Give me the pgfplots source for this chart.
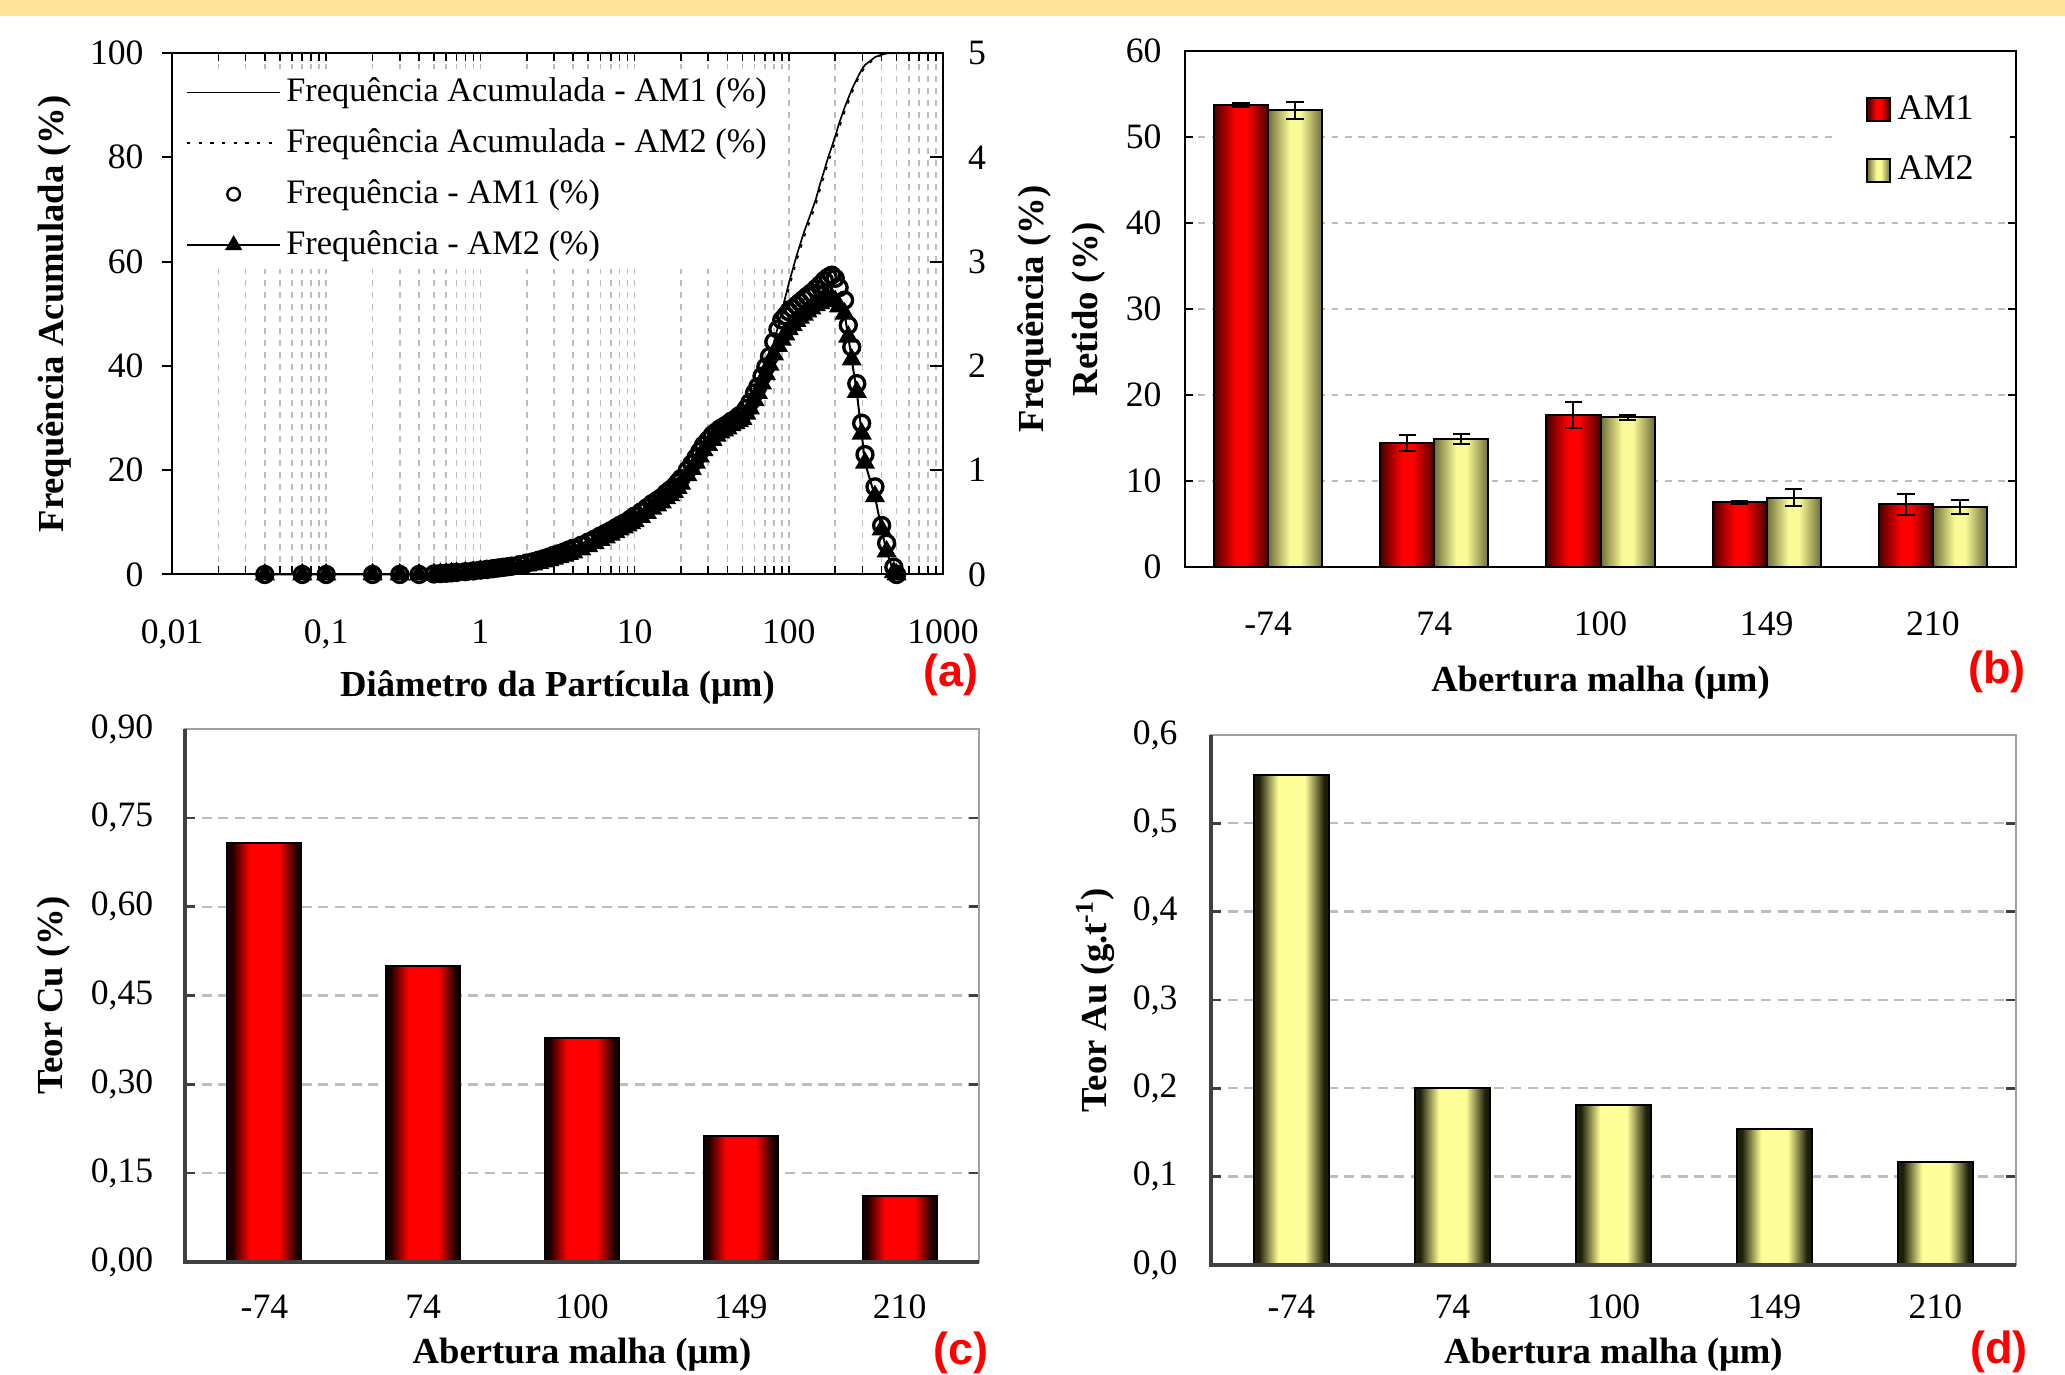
\documentclass[border=0pt]{standalone}
\usepackage{pgfplots}
\usepackage{pgfplotstable}
\pgfplotsset{compat=1.18}
\usepackage{fontspec}
\setmainfont{Liberation Serif}
\newfontfamily\sansb{Liberation Sans}
\definecolor{band}{HTML}{FFE599}
\definecolor{gridc}{HTML}{BDBDBD}
\definecolor{redEdge}{HTML}{4A0000}
\definecolor{redMid}{HTML}{FF0000}
\definecolor{yEdge}{HTML}{6E6E3A}
\definecolor{yMid}{HTML}{FAFA96}
\definecolor{yEdge2}{HTML}{1E1E0A}
\definecolor{yMid2}{HTML}{FFFF99}
\definecolor{redEdge2}{HTML}{1A0000}
\definecolor{axgray}{HTML}{404040}
\definecolor{boxgray}{HTML}{A0A0A0}

\pgfdeclarehorizontalshading{shRedB}{100bp}{color(0bp)=(redEdge); color(25bp)=(redEdge); color(45bp)=(redMid); color(55bp)=(redMid); color(75bp)=(redEdge); color(100bp)=(redEdge)}
\pgfdeclarehorizontalshading{shYelB}{100bp}{color(0bp)=(yEdge); color(25bp)=(yEdge); color(45bp)=(yMid); color(55bp)=(yMid); color(75bp)=(yEdge); color(100bp)=(yEdge)}
\pgfdeclarehorizontalshading{shRedC}{100bp}{color(0bp)=(redEdge2); color(25bp)=(redEdge2); color(28bp)=(redEdge2); color(40bp)=(redMid); color(60bp)=(redMid); color(72bp)=(redEdge2); color(75bp)=(redEdge2); color(100bp)=(redEdge2)}
\pgfdeclarehorizontalshading{shYelD}{100bp}{color(0bp)=(yEdge2); color(25bp)=(yEdge2); color(28bp)=(yEdge2); color(41bp)=(yMid2); color(59bp)=(yMid2); color(72bp)=(yEdge2); color(75bp)=(yEdge2); color(100bp)=(yEdge2)}

\pgfplotsset{every axis/.append style={
  /pgf/number format/assume math mode=true,
  tick label style={font=\fontsize{10.7}{12}\selectfont},
  label style={font=\bfseries\fontsize{11}{13.5}\selectfont},
},
redbar/.style={draw=black, line width=0.6pt, shade, shading=shRedB, shading angle=0},
yelbar/.style={draw=black, line width=0.6pt, shade, shading=shYelB, shading angle=0},
redbar2/.style={draw=black, line width=0.6pt, shade, shading=shRedC, shading angle=0},
yelbar2/.style={draw=black, line width=0.6pt, shade, shading=shYelD, shading angle=0},
errb/.style={error bars/y dir=both, error bars/y explicit,
  error bars/error bar style={black, line width=0.6pt},
  error bars/error mark options={rotate=90, mark size=2.6pt, black, line width=0.6pt}},
}

\pgfplotstableread{
d f1 f2
0.04 0 0
0.07 0 0
0.1 0 0
0.2 0 0
0.3 0 0
0.4 0 0
0.5 0.005 0.003
0.55 0.009 0.005
0.6 0.012 0.007
0.65 0.016 0.01
0.7 0.02 0.012
0.8 0.027 0.017
0.9 0.034 0.022
1.0 0.042 0.03
1.1 0.048 0.035
1.2 0.055 0.04
1.3 0.062 0.045
1.4 0.068 0.05
1.5 0.074 0.055
1.6 0.08 0.06
1.8 0.095 0.072
2.0 0.11 0.085
2.2 0.122 0.095
2.4 0.138 0.11
2.6 0.153 0.123
2.8 0.168 0.137
3.0 0.185 0.15
3.25 0.20 0.165
3.5 0.217 0.18
3.75 0.235 0.195
4.0 0.252 0.21
4.5 0.28 0.24
5.0 0.31 0.27
5.5 0.34 0.30
6.0 0.37 0.33
6.5 0.395 0.355
7.0 0.42 0.38
7.5 0.445 0.405
8.0 0.47 0.43
8.5 0.49 0.45
9.0 0.51 0.47
9.5 0.535 0.49
10 0.56 0.51
11 0.60 0.55
12 0.64 0.59
13 0.68 0.63
14 0.71 0.66
15 0.74 0.69
16 0.78 0.73
17 0.81 0.76
18 0.84 0.79
19 0.88 0.83
20 0.92 0.87
22 1.00 0.95
23.5 1.06 1.01
25 1.12 1.07
26.5 1.18 1.13
28 1.24 1.19
30 1.29 1.24
32 1.34 1.29
34 1.37 1.33
36 1.40 1.36
38 1.42 1.38
40 1.44 1.40
42.5 1.47 1.43
45 1.49 1.45
47.5 1.52 1.47
50 1.54 1.49
53 1.59 1.54
56 1.65 1.59
60 1.74 1.67
63 1.80 1.74
67 1.90 1.83
71 1.99 1.92
75 2.09 2.01
80 2.23 2.11
85 2.35 2.19
90 2.44 2.25
95 2.48 2.30
100 2.52 2.35
106 2.55 2.39
112 2.58 2.43
118 2.61 2.46
125 2.64 2.49
132 2.67 2.52
140 2.70 2.55
150 2.74 2.58
160 2.78 2.60
170 2.82 2.62
180 2.85 2.64
190 2.87 2.65
200 2.84 2.62
212 2.75 2.57
230 2.63 2.50
243 2.39 2.28
256 2.18 2.06
276 1.83 1.75
297 1.45 1.35
312 1.15 1.07
362 0.84 0.75
400 0.47 0.43
431 0.30 0.22
480 0.07 0.02
500 0.00 0.00
}\freqtab

\pgfplotstableread{
d c1 c2
0.04 0 0
0.4 0 0
0.5 0.1 0.1
0.7 0.4 0.3
1 0.8 0.7
1.4 1.2 1.1
2 2.0 1.8
3 3.4 3.2
4 4.7 4.4
5 5.8 5.6
6 7.0 6.8
7 8.0 7.8
8 9.0 8.8
9 9.8 9.6
10 10.8 10.4
12 12.4 12.0
14 13.8 13.4
16 15.2 14.8
18 16.4 16.0
20 18.0 17.6
22 19.6 19.2
25 22.0 21.6
28 24.4 24.0
32 26.4 26.0
36 27.6 27.4
40 28.4 28.2
45 29.4 29.2
50 30.4 30.0
56 32.6 32.0
63 35.6 35.0
71 39.4 38.6
75 41.4 40.4
80 44.5 43.5
85 47.5 46.5
90 50.5 49.5
95 53.2 52.2
100 55.8 54.8
112 61 60
125 65.5 64.5
140 69.5 68.5
150 72 71
160 75 74
170 77.5 76.5
180 80 79
190 82 81
200 84 83
212 86.5 85.5
230 89.5 88.7
256 93 92.3
276 95 94.5
297 96.8 96.3
312 97.7 97.3
362 99.2 99.0
400 99.7 99.6
450 100 99.9
500 100 100
}\cumtab

\begin{document}
\begin{tikzpicture}[x=1pt,y=1pt]
\useasboundingbox (0,0) rectangle (619.5,412.5);
\fill[band] (0,407.8) rectangle (619.5,412.5);

% ===================== (a) =====================
\begin{axis}[at={(51.6pt,240.15pt)}, anchor=south west, scale only axis,
  width=231.3pt, height=156.45pt,
  xmode=log, log basis x=10, xmin=0.01, xmax=1000, ymin=0, ymax=100, ytick=\empty,
  xtick={0.01,0.1,1,10,100,1000}, xticklabels={{0,01},{0,1},1,10,100,1000},
  minor xtick={0.02,0.03,0.04,0.05,0.06,0.07,0.08,0.09,0.2,0.3,0.4,0.5,0.6,0.7,0.8,0.9,2,3,4,5,6,7,8,9,20,30,40,50,60,70,80,90,200,300,400,500,600,700,800,900},
  tick align=inside, major tick length=2.5pt, minor tick length=2.5pt,
  tick style={black, line width=0.5pt},
  xmajorgrids, xminorgrids,
  major grid style={gridc, dash pattern=on 2pt off 1.6pt, line width=0.5pt},
  minor grid style={gridc, dash pattern=on 2pt off 1.6pt, line width=0.5pt},
  xticklabel style={yshift=-10pt},
  xlabel={Diâmetro da Partícula (μm)},
  xlabel style={at={(axis description cs:0.5,0)}, anchor=center, yshift=-34pt},
  axis line style={black, line width=0.6pt},
  legend style={at={(0,1)}, anchor=north west, yshift=-4.5pt, draw=none, fill=white,
    font=\fontsize{10.3}{12}\selectfont, inner xsep=4pt, inner ysep=1.3pt,
    row sep=3.6pt, nodes={inner sep=1.5pt}},
  legend cell align=left,
  legend image code/.code={\draw[mark repeat=2,mark phase=2,#1] plot coordinates {(0pt,0pt) (14pt,0pt) (28pt,0pt)};},
]
\addplot[black, line width=0.5pt] table[x=d,y=c1]{\cumtab};
\addlegendentry{Frequência Acumulada - AM1 (\%)}
\addplot[black, line width=0.5pt, dash pattern=on 1pt off 2.5pt] table[x=d,y=c2]{\cumtab};
\addlegendentry{Frequência Acumulada - AM2 (\%)}
\addlegendimage{only marks, mark=o, mark size=1.9pt, black, mark options={line width=0.7pt}}
\addlegendentry{Frequência - AM1 (\%)}
\addlegendimage{black, line width=0.6pt, mark=triangle*, mark size=2.4pt}
\addlegendentry{Frequência - AM2 (\%)}
\end{axis}

\begin{axis}[at={(51.6pt,240.15pt)}, anchor=south west, scale only axis,
  width=231.3pt, height=156.45pt,
  xmode=log, xmin=0.01, xmax=1000, ymin=0, ymax=5,
  axis x line=none, axis y line*=right,
  ytick={0,1,2,3,4,5}, tick align=inside, major tick length=4pt,
  tick style={black, line width=0.6pt},
  yticklabel style={xshift=4pt},
  axis line style={black, line width=0.6pt}, clip=false]
\addplot[only marks, mark=o, mark size=2.4pt, black, mark options={line width=1pt}] table[x=d,y=f1]{\freqtab};
\addplot[black, line width=0.6pt, mark=triangle*, mark size=2.9pt] table[x=d,y=f2]{\freqtab};
\end{axis}

\begin{axis}[at={(51.6pt,240.15pt)}, anchor=south west, scale only axis,
  width=231.3pt, height=156.45pt,
  xmode=log, xmin=0.01, xmax=1000, ymin=0, ymax=100,
  axis x line=none, axis y line*=left,
  ytick={0,20,40,60,80,100}, tick align=outside, major tick length=3pt,
  tick style={black, line width=0.6pt},
  yticklabel style={xshift=-2pt},
  axis line style={black, line width=0.6pt},
  ylabel={Frequência Acumulada (\%)},
  ylabel style={at={(axis description cs:-0.153,0.5)}, anchor=center}]
\end{axis}

% ===================== (b) =====================
\begin{axis}[at={(355.5pt,242.4pt)}, anchor=south west, scale only axis,
  width=249.3pt, height=154.8pt,
  ybar, bar width=0.325,
  xmin=-0.5, xmax=4.5, ymin=0, ymax=60,
  xtick={0,1,2,3,4}, xticklabels={-74,74,100,149,210},
  x tick style={draw=none},
  ytick={0,10,...,60}, tick align=inside, major tick length=2.5pt,
  y tick style={black, line width=0.5pt},
  yticklabel style={xshift=-3.5pt},
  ymajorgrids, major grid style={gridc, dash pattern=on 2pt off 2pt, line width=0.6pt},
  axis line style={black, line width=0.6pt},
  xticklabel style={yshift=-10pt},
  xlabel={Abertura malha (μm)},
  xlabel style={at={(axis description cs:0.5,0)}, anchor=center, yshift=-34.7pt},
  ylabel={Frequência (\%)\\[2.6pt]Retido (\%)},
  ylabel style={align=center, at={(axis description cs:-0.149,0.5)}, anchor=center},
  legend style={at={(0.783,0.967)}, anchor=north west, draw=none, fill=white,
    font=\fontsize{10.8}{12.5}\selectfont, inner xsep=9pt, inner ysep=6pt,
    row sep=5.5pt, nodes={inner sep=2pt}},
  legend cell align=left,
  legend image code/.code={\draw[#1] (0pt,-3.4pt) rectangle (6.8pt,3.4pt);},
]
\addplot[redbar, bar shift=-0.1625, forget plot, errb] coordinates {(0,53.7) +- (0,0.2)};
\addplot[redbar, bar shift=-0.1625, forget plot, errb] coordinates {(1,14.4) +- (0,0.9)};
\addplot[redbar, bar shift=-0.1625, forget plot, errb] coordinates {(2,17.7) +- (0,1.5)};
\addplot[redbar, bar shift=-0.1625, forget plot, errb] coordinates {(3,7.5) +- (0,0.2)};
\addplot[redbar, bar shift=-0.1625, forget plot, errb] coordinates {(4,7.3) +- (0,1.2)};
\addplot[yelbar, bar shift=0.1625, forget plot, errb] coordinates {(0,53.1) +- (0,1.0)};
\addplot[yelbar, bar shift=0.1625, forget plot, errb] coordinates {(1,14.9) +- (0,0.6)};
\addplot[yelbar, bar shift=0.1625, forget plot, errb] coordinates {(2,17.4) +- (0,0.25)};
\addplot[yelbar, bar shift=0.1625, forget plot, errb] coordinates {(3,8.05) +- (0,1.0)};
\addplot[yelbar, bar shift=0.1625, forget plot, errb] coordinates {(4,7.0) +- (0,0.8)};
\addlegendimage{redbar}
\addlegendentry{AM1}
\addlegendimage{yelbar}
\addlegendentry{AM2}
\end{axis}

% ===================== (c) =====================
\begin{axis}[at={(55.5pt,33.9pt)}, anchor=south west, scale only axis,
  width=238.2pt, height=159.9pt,
  ybar, bar width=0.465,
  xmin=-0.5, xmax=4.5, ymin=0, ymax=0.9,
  xtick={0,1,2,3,4}, xticklabels={-74,74,100,149,210},
  x tick style={draw=none},
  ytick={0,0.15,0.3,0.45,0.6,0.75,0.9},
  yticklabels={{0,00},{0,15},{0,30},{0,45},{0,60},{0,75},{0,90}},
  tick align=inside, major tick length=3pt,
  y tick style={axgray, line width=0.8pt},
  ymajorgrids, major grid style={gridc, dash pattern=on 3pt off 2pt, line width=0.7pt},
  axis line style={boxgray, line width=0.6pt},
  xticklabel style={yshift=-6.3pt},
  yticklabel style={xshift=-6pt},
  xlabel={Abertura malha (μm)},
  xlabel style={at={(axis description cs:0.5,0)}, anchor=center, yshift=-27.8pt},
  ylabel={Teor Cu (\%)},
  ylabel style={at={(axis description cs:-0.165,0.5)}, anchor=center},
  after end axis/.code={\draw[axgray, line width=1.2pt] (axis description cs:0,1) -- (axis description cs:0,0) -- (axis description cs:1,0);},
]
\addplot[redbar2, bar shift=0] coordinates {(0,0.708)};
\addplot[redbar2, bar shift=0] coordinates {(1,0.499)};
\addplot[redbar2, bar shift=0] coordinates {(2,0.378)};
\addplot[redbar2, bar shift=0] coordinates {(3,0.2135)};
\addplot[redbar2, bar shift=0] coordinates {(4,0.1115)};
\end{axis}

% ===================== (d) =====================
\begin{axis}[at={(363.3pt,33pt)}, anchor=south west, scale only axis,
  width=241.5pt, height=159pt,
  ybar, bar width=0.46,
  xmin=-0.5, xmax=4.5, ymin=0, ymax=0.6,
  xtick={0,1,2,3,4}, xticklabels={-74,74,100,149,210},
  x tick style={draw=none},
  ytick={0,0.1,0.2,0.3,0.4,0.5,0.6},
  yticklabels={{0,0},{0,1},{0,2},{0,3},{0,4},{0,5},{0,6}},
  tick align=inside, major tick length=3pt,
  y tick style={axgray, line width=0.8pt},
  ymajorgrids, major grid style={gridc, dash pattern=on 3pt off 2pt, line width=0.7pt},
  axis line style={boxgray, line width=0.6pt},
  xticklabel style={yshift=-5.4pt},
  yticklabel style={xshift=-6.5pt},
  xlabel={Abertura malha (μm)},
  xlabel style={at={(axis description cs:0.5,0)}, anchor=center, yshift=-27pt},
  ylabel={Teor Au (g.t\textsuperscript{-1})},
  ylabel style={at={(axis description cs:-0.144,0.5)}, anchor=center},
  after end axis/.code={\draw[axgray, line width=1.2pt] (axis description cs:0,1) -- (axis description cs:0,0) -- (axis description cs:1,0);},
]
\addplot[yelbar2, bar shift=0] coordinates {(0,0.555)};
\addplot[yelbar2, bar shift=0] coordinates {(1,0.200)};
\addplot[yelbar2, bar shift=0] coordinates {(2,0.1815)};
\addplot[yelbar2, bar shift=0] coordinates {(3,0.154)};
\addplot[yelbar2, bar shift=0] coordinates {(4,0.117)};
\end{axis}

% panel letters
\node[font=\sansb\bfseries\fontsize{13.5}{15}\selectfont, text=red] at (285.3,209.9) {(a)};
\node[font=\sansb\bfseries\fontsize{13.5}{15}\selectfont, text=red] at (599.1,210.9) {(b)};
\node[font=\sansb\bfseries\fontsize{13.5}{15}\selectfont, text=red] at (288.3,6.6) {(c)};
\node[font=\sansb\bfseries\fontsize{13.5}{15}\selectfont, text=red] at (599.7,6.9) {(d)};
\end{tikzpicture}
\end{document}
